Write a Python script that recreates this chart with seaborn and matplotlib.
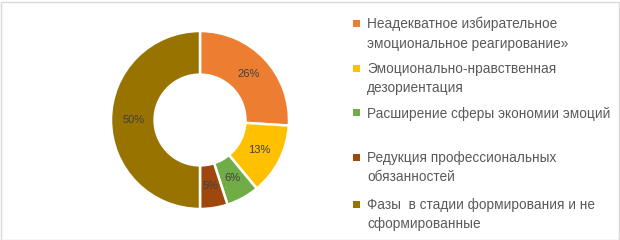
import matplotlib
matplotlib.use("Agg")
import matplotlib.pyplot as plt
from matplotlib.patches import Rectangle
import seaborn as sns

sns.set_style("white")
plt.rcParams['font.family'] = ['Liberation Sans', 'DejaVu Sans']

categories = [
    "Неадекватное избирательное\nэмоциональное реагирование»",
    "Эмоционально-нравственная\nдезориентация",
    "Расширение сферы экономии эмоций",
    "Редукция профессиональных\nобязанностей",
    "Фазы  в стадии формирования и не\nсформированные",
]
values = [26, 13, 6, 5, 50]
labels = ["26%", "13%", "6%", "5%", "50%"]
colors = sns.color_palette(["#ED7D31", "#FFC000", "#70AD47", "#9E480E", "#997300"])

W, H = 620, 240
fig = plt.figure(figsize=(6.2, 2.4), dpi=100)
fig.patch.set_facecolor("white")

cx, cy, R = 200, 120, 89
ax = fig.add_axes([(cx - R) / W, (H - cy - R) / H, 2 * R / W, 2 * R / H])
wedges, texts = ax.pie(
    values, colors=colors, startangle=90, counterclock=False,
    radius=1.0, wedgeprops=dict(width=0.49, edgecolor="white", linewidth=1.8),
    labels=labels, labeldistance=0.75,
    textprops=dict(fontsize=8, color="#404040", ha="center", va="center"),
)
ax.set_aspect("equal")
ax.set_xlim(-1, 1)
ax.set_ylim(-1, 1)
ax.axis("off")

# legend
entry_tops = [23, 68, 113, 157, 204]
for top, lab, col in zip(entry_tops, categories, colors):
    fig.patches.append(Rectangle(((356 - 3.5) / W, 1 - (top + 3.5) / H), 7 / W, 7 / H,
                                 transform=fig.transFigure, facecolor=col, edgecolor="none"))
    fig.text(367 / W, 1 - (top - 6) / H, lab, fontsize=9.8, color="#595959",
             ha="left", va="top", linespacing=1.48)

# chart border
fig.patches.append(Rectangle((0.5 / W, 0.5 / H), (W - 2) / W, (H - 2) / H,
                             transform=fig.transFigure, facecolor="none",
                             edgecolor="#D9D9D9", linewidth=1))

fig.savefig("out.png", dpi=100)
